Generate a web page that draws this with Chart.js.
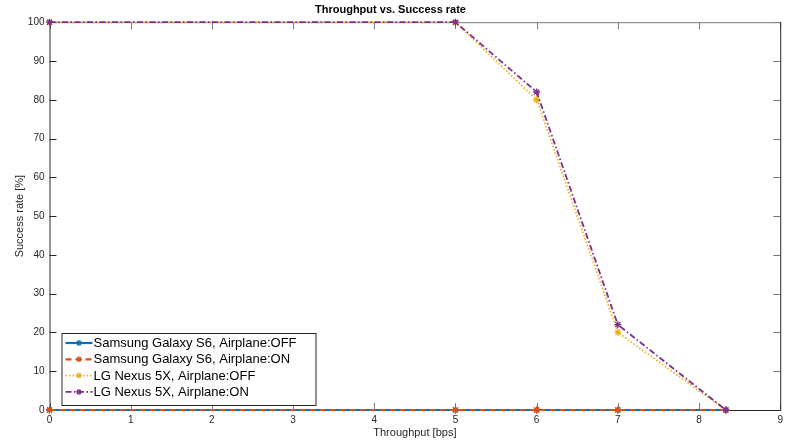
<!DOCTYPE html>
<html>
<head>
<meta charset="utf-8">
<script src="https://cdn.jsdelivr.net/npm/chart.js@4/dist/chart.umd.min.js"></script>
<style>
  html, body { margin: 0; padding: 0; background: #fff; }
  #wrap { width: 787px; height: 441px; }
</style>
</head>
<body>
<div id="wrap"><canvas id="chart" width="787" height="441"></canvas></div>
<script>
// values
const throughput = [0, 5, 6, 7, 8.33];
const s6Off = [0, 0, 0, 0, 0];
const s6On = [0, 0, 0, 0, 0];
const nexusOff = [100, 100, 80, 20, 0];
const nexusOn = [100, 100, 82, 22, 0];
const seriesNames = [
    "Samsung Galaxy S6, Airplane:OFF",
    "Samsung Galaxy S6, Airplane:ON",
    "LG Nexus 5X, Airplane:OFF",
    "LG Nexus 5X, Airplane:ON"
];
const xTicks = [0, 1, 2, 3, 4, 5, 6, 7, 8, 9];
const yTicks = [0, 10, 20, 30, 40, 50, 60, 70, 80, 90, 100];

const FONT = "'Liberation Sans', Arial, Helvetica, sans-serif";
const AXIS_COLOR = "#262626";

const toPoints = (ys) => throughput.map((x, i) => ({ x: x, y: ys[i] }));

const makeSet = (label, ys, color, dash, width, order) => ({
    label: label,
    data: toPoints(ys),
    borderColor: color,
    backgroundColor: color,
    borderWidth: width,
    borderDash: dash,
    pointStyle: "star",
    pointRadius: 3.5,
    pointBorderWidth: 1.3,
    pointBorderColor: color,
    pointHoverRadius: 3.5,
    tension: 0,
    fill: false,
    clip: 10,
    order: order
});

const datasets = [
    makeSet(seriesNames[0], s6Off, "#0072BD", [], 2.2, 4),
    makeSet(seriesNames[1], s6On, "#D95319", [6, 4], 2.2, 3),
    makeSet(seriesNames[2], nexusOff, "#EDB120", [1.5, 2], 1.8, 2),
    makeSet(seriesNames[3], nexusOn, "#7E2F8E", [6, 2.5, 1.5, 2.5], 1.8, 1)
];

// inward ticks + box, like the original axes (drawn under the lines)
const axesBox = {
    id: "axesBox",
    beforeDatasetsDraw(chart) {
        const { ctx, chartArea: a, scales } = chart;
        const len = 7;
        ctx.save();
        ctx.lineWidth = 1;
        ctx.setLineDash([]);
        ctx.strokeStyle = "#7a7a7a";
        ctx.beginPath();
        ctx.moveTo(a.left, a.top + 0.5);
        ctx.lineTo(a.right + 0.5, a.top + 0.5);
        ctx.stroke();
        scales.x.ticks.forEach(t => {
            const px = Math.round(scales.x.getPixelForValue(t.value)) + 0.5;
            ctx.beginPath();
            ctx.moveTo(px, a.top);
            ctx.lineTo(px, a.top + len);
            ctx.moveTo(px, a.bottom);
            ctx.lineTo(px, a.bottom - len);
            ctx.stroke();
        });
        scales.y.ticks.forEach(t => {
            const py = Math.round(scales.y.getPixelForValue(t.value)) + 0.5;
            ctx.beginPath();
            ctx.moveTo(a.right, py);
            ctx.lineTo(a.right - len, py);
            ctx.stroke();
        });
        ctx.strokeStyle = AXIS_COLOR;
        ctx.beginPath();
        ctx.moveTo(a.left + 0.5, a.top);
        ctx.lineTo(a.left + 0.5, a.bottom + 0.5);
        ctx.lineTo(a.right, a.bottom + 0.5);
        ctx.moveTo(a.right + 0.5, a.top);
        ctx.lineTo(a.right + 0.5, a.bottom + 1);
        ctx.stroke();
        scales.y.ticks.forEach(t => {
            const py = Math.round(scales.y.getPixelForValue(t.value)) + 0.5;
            ctx.beginPath();
            ctx.moveTo(a.left, py);
            ctx.lineTo(a.left + len, py);
            ctx.stroke();
        });
        ctx.restore();
    }
};

const drawStar = (ctx, x, y, r) => {
    ctx.beginPath();
    ctx.moveTo(x - r, y); ctx.lineTo(x + r, y);
    ctx.moveTo(x, y - r); ctx.lineTo(x, y + r);
    const d = r * 0.7;
    ctx.moveTo(x - d, y - d); ctx.lineTo(x + d, y + d);
    ctx.moveTo(x - d, y + d); ctx.lineTo(x + d, y - d);
    ctx.stroke();
};

// legend box sitting in the lower left corner of the axes
const boxLegend = {
    id: "boxLegend",
    afterDraw(chart) {
        const { ctx, chartArea: a } = chart;
        const x0 = a.left + 12, y0 = a.bottom - 77;
        const w = 254, h = 72, rowH = 16.3;
        ctx.save();
        ctx.fillStyle = "#fff";
        ctx.fillRect(x0, y0, w, h);
        ctx.strokeStyle = AXIS_COLOR;
        ctx.lineWidth = 1;
        ctx.strokeRect(x0 + 0.5, y0 + 0.5, w, h);
        ctx.font = "13px " + FONT;
        ctx.textBaseline = "middle";
        chart.data.datasets.forEach((ds, i) => {
            const cy = y0 + 10 + i * rowH;
            ctx.strokeStyle = ds.borderColor;
            ctx.lineWidth = ds.borderWidth;
            ctx.setLineDash(ds.borderDash);
            ctx.beginPath();
            ctx.moveTo(x0 + 4, cy);
            ctx.lineTo(x0 + 31, cy);
            ctx.stroke();
            ctx.setLineDash([]);
            ctx.lineWidth = 1.2;
            drawStar(ctx, x0 + 17.5, cy, 3);
            ctx.fillStyle = "#000";
            ctx.fillText(ds.label, x0 + 32, cy + 0.5);
        });
        ctx.restore();
    }
};

const chart = new Chart(document.getElementById("chart"), {
    type: "line",
    data: { datasets: datasets },
    options: {
        responsive: false,
        animation: false,
        events: [],
        layout: { padding: { top: 0, right: 6, left: 0, bottom: 0 } },
        plugins: {
            legend: { display: false },
            tooltip: { enabled: false },
            title: {
                display: true,
                text: "Throughput vs. Success rate",
                color: "#000",
                font: { family: FONT, size: 11, weight: "bold" },
                padding: { top: 3, bottom: 6 }
            }
        },
        scales: {
            x: {
                type: "linear",
                min: 0,
                max: 9,
                afterBuildTicks: (s) => { s.ticks = xTicks.map(v => ({ value: v })); },
                afterFit: (s) => { s.height = 31; },
                grid: { display: false, drawTicks: false },
                border: { display: false },
                ticks: { color: AXIS_COLOR, font: { family: FONT, size: 10 }, padding: 4, maxRotation: 0 },
                title: {
                    display: true,
                    text: "Throughput [bps]",
                    color: AXIS_COLOR,
                    font: { family: FONT, size: 11 },
                    padding: { top: 0, bottom: 1 }
                }
            },
            y: {
                type: "linear",
                min: 0,
                max: 100,
                afterBuildTicks: (s) => { s.ticks = yTicks.map(v => ({ value: v })); },
                afterFit: (s) => { s.width = 49.5; },
                grid: { display: false, drawTicks: false },
                border: { display: false },
                ticks: { color: AXIS_COLOR, font: { family: FONT, size: 10 }, padding: 5 },
                title: {
                    display: true,
                    text: "Success rate [%]",
                    color: AXIS_COLOR,
                    font: { family: FONT, size: 11 },
                    padding: { top: 13, bottom: 0 }
                }
            }
        }
    },
    plugins: [axesBox, boxLegend]
});
</script>
</body>
</html>
